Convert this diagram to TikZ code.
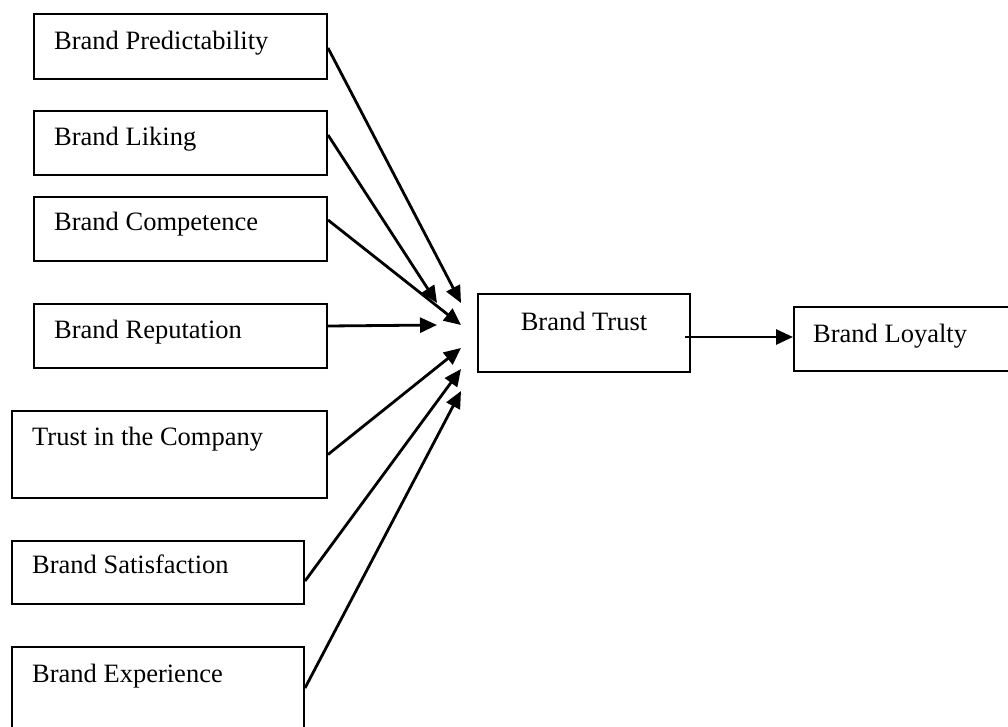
\documentclass[tikz,border=0pt]{standalone}
\usepackage{fontspec}
\setmainfont{Liberation Serif}
\usetikzlibrary{arrows.meta}
\begin{document}
\begin{tikzpicture}[x=1pt,y=-1pt,
  box/.style={draw, line width=2pt, rectangle, anchor=north west, inner sep=0pt},
  lbl/.style={anchor=base west, inner sep=0pt, font=\fontsize{26.5}{30}\selectfont},
  conn/.style={line width=2.8pt, -{Triangle[length=17pt,width=15pt]}}]
\clip (0,0) rectangle (1008,727);
\fill[white] (0,0) rectangle (1008,727);
% boxes
\node[box, minimum width=293, minimum height=65] (b1) at (33,13) {};
\node[box, minimum width=293, minimum height=64] (b2) at (33,110) {};
\node[box, minimum width=293, minimum height=64] (b3) at (33,196) {};
\node[box, minimum width=293, minimum height=64] (b4) at (33,303) {};
\node[box, minimum width=315, minimum height=87] (b5) at (11,410) {};
\node[box, minimum width=292, minimum height=63] (b6) at (11,540) {};
\node[box, minimum width=292, minimum height=100] (b7) at (11,646) {};
\node[box, minimum width=212, minimum height=78] (bt) at (477,293) {};
\node[box, minimum width=240, minimum height=64] (bl) at (793,306) {};
% labels
\node[lbl] (l1) at ([xshift=21,yshift=-37]b1.north west) {Brand Predictability};
\node[lbl] (l2) at ([xshift=21,yshift=-36]b2.north west) {Brand Liking};
\node[lbl] (l3) at ([xshift=21,yshift=-35]b3.north west) {Brand Competence};
\node[lbl] (l4) at ([xshift=21,yshift=-35]b4.north west) {Brand Reputation};
\node[lbl] (l5) at ([xshift=21,yshift=-35]b5.north west) {Trust in the Company};
\node[lbl] (l6) at ([xshift=21,yshift=-33]b6.north west) {Brand Satisfaction};
\node[lbl] (l7) at ([xshift=21,yshift=-36]b7.north west) {Brand Experience};
\node[lbl, anchor=base] (lt) at ([yshift=-37]bt.north) {Brand Trust};
\node[lbl] (ll) at ([xshift=20,yshift=-36]bl.north west) {Brand Loyalty};
% arrow tips
\coordinate (t1) at (461,303);
\coordinate (t2) at (437,303);
\coordinate (t3) at (461,325);
\coordinate (t4) at (437,325);
\coordinate (t5) at (461,348);
\coordinate (t6) at (461,369);
\coordinate (t7) at (461,391);
% connectors
\draw[conn] ([yshift=-1.5]b1.east) -- (t1);
\draw[conn] ([yshift=8]b2.east) -- (t2);
\draw[conn] ([yshift=9]b3.east) -- (t3);
\draw[conn] ([yshift=10]b4.east) -- (t4);
\draw[conn] (b5.east) -- (t5);
\draw[conn] ([yshift=-8.5]b6.east) -- (t6);
\draw[conn] ([yshift=-42]b7.north east) -- (t7);
\coordinate (s8) at ([xshift=-6,yshift=-4]bt.east);
\draw[conn] (s8) -- (s8 -| bl.west);
\end{tikzpicture}
\end{document}
